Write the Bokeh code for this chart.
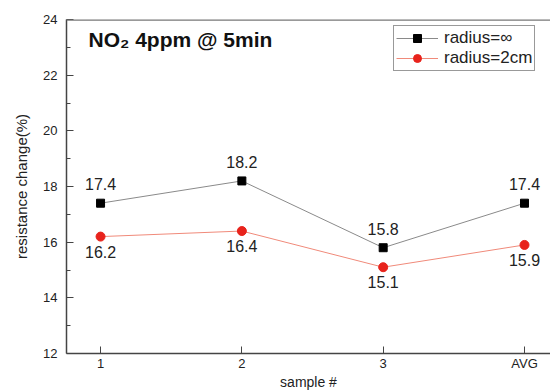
from bokeh.plotting import figure
from bokeh.models import (ColumnDataSource, FixedTicker, Range1d, Span, Label,
                          Legend, LegendItem)
from bokeh.embed import file_html
from bokeh.resources import INLINE
from bokeh.core.properties import value

# ---- data ----
samples = ["1", "2", "3", "AVG"]
radius_inf = [17.4, 18.2, 15.8, 17.4]
radius_2cm = [16.2, 16.4, 15.1, 15.9]
y_ticks = [12, 14, 16, 18, 20, 22, 24]

xs = list(range(1, len(samples) + 1))
src_inf = ColumnDataSource(dict(x=xs, y=radius_inf, lab=[f"{v:.1f}" for v in radius_inf]))
src_2cm = ColumnDataSource(dict(x=xs, y=radius_2cm, lab=[f"{v:.1f}" for v in radius_2cm]))

FONT = "Liberation Sans"

p = figure(frame_width=484, frame_height=334, output_backend="svg", toolbar_location=None,
           x_range=Range1d(0.759, 4.184), y_range=Range1d(12, 24),
           min_border_left=66, min_border_top=19, min_border_right=0,
           min_border_bottom=34)
p.background_fill_color = "white"
p.border_fill_color = "white"
p.outline_line_color = None
p.xgrid.visible = False
p.ygrid.visible = False

# axes
for ax in (p.xaxis[0], p.yaxis[0]):
    ax.axis_line_color = "#444444"
    ax.axis_line_width = 1.5
    ax.major_tick_line_color = "#444444"
    ax.minor_tick_line_color = "#444444"
    ax.major_tick_in = 7
    ax.major_tick_out = 0
    ax.minor_tick_in = 4
    ax.minor_tick_out = 0
    ax.major_label_text_font = FONT
    ax.major_label_text_font_size = "13px"
    ax.major_label_text_color = "#222222"
    ax.axis_label_text_font = FONT
    ax.axis_label_text_font_style = "normal"
    ax.axis_label_text_font_size = "15px"
    ax.axis_label_text_color = "#222222"

p.xaxis.ticker = FixedTicker(ticks=xs, minor_ticks=[])
p.xaxis.major_label_overrides = {x: s for x, s in zip(xs, samples)}
p.xaxis.major_label_standoff = 2
p.xaxis.axis_label = "sample #"
p.xaxis.axis_label_standoff = 0
p.xaxis.axis_label_text_font_size = "14px"

minor = [v + 1 for v in y_ticks[:-1]]
p.yaxis.ticker = FixedTicker(ticks=y_ticks, minor_ticks=minor)
p.yaxis.axis_label = "resistance change(%)"
p.yaxis.major_label_standoff = 9
p.yaxis.axis_label_standoff = 10

# top border line
p.add_layout(Span(location=24, dimension="width", line_color="#777777", line_width=2.5))

# series
l1 = p.line("x", "y", source=src_inf, line_color="#8a8a8a", line_width=1)
m1 = p.scatter("x", "y", source=src_inf, marker="square", size=8,
               fill_color="black", line_color="black")
l2 = p.line("x", "y", source=src_2cm, line_color="#f08a7a", line_width=1)
m2 = p.scatter("x", "y", source=src_2cm, marker="circle", size=9,
               fill_color="#e8231c", line_color="#e8231c")

# value labels
p.text("x", "y", text="lab", source=src_inf, text_font=value(FONT),
       text_font_size="16px", text_color="#222222", text_align="center",
       text_baseline="bottom", y_offset=-13)
p.text("x", "y", text="lab", source=src_2cm, text_font=value(FONT),
       text_font_size="16px", text_color="#222222", text_align="center",
       text_baseline="top", y_offset=9)

# title inside plot
p.add_layout(Label(x=22, y=314, x_units="screen", y_units="screen",
                   text="NO₂ 4ppm @ 5min", text_font=FONT,
                   text_font_size="21px", text_font_style="bold",
                   text_color="#111111", text_baseline="middle"))

legend = Legend(items=[LegendItem(label="radius=∞", renderers=[l1, m1]),
                       LegendItem(label="radius=2cm", renderers=[l2, m2])],
                location=(327, 282))
legend.border_line_color = "#333333"
legend.border_line_width = 1.5
legend.background_fill_alpha = 1
legend.label_text_font = FONT
legend.label_text_font_size = "17px"
legend.label_text_color = "#222222"
legend.glyph_width = 42
legend.glyph_height = 20
legend.label_height = 20
legend.label_standoff = 6
legend.spacing = 0
legend.padding = 2
legend.margin = 0
p.add_layout(legend)

open("out.html", "w").write(file_html(p, INLINE))
